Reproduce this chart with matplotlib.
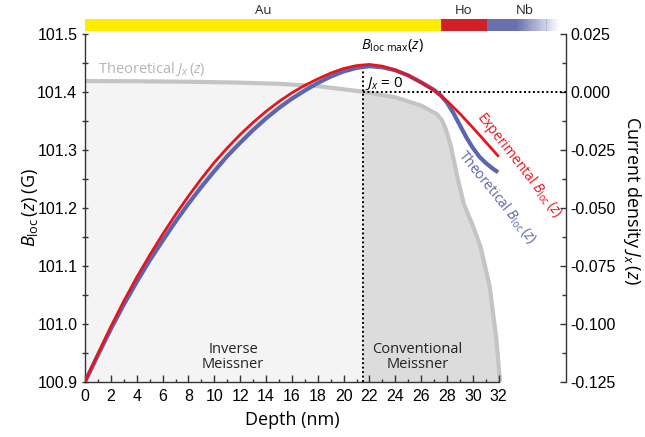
import numpy as np
import matplotlib
matplotlib.use("Agg")
import matplotlib.pyplot as plt
from matplotlib.transforms import blended_transform_factory
from matplotlib.patches import Rectangle
from matplotlib.ticker import MultipleLocator, FixedLocator

plt.rcParams['font.family'] = ['Open Sans', 'DejaVu Sans']
plt.rcParams['mathtext.fontset'] = 'custom'
plt.rcParams['mathtext.rm'] = 'Open Sans'
plt.rcParams['mathtext.it'] = 'Open Sans:italic'

# ---------------- data ----------------
depth_exp = list(range(0, 33))
b_exp = [100.900, 100.948, 100.995, 101.039, 101.080, 101.118, 101.154, 101.188,
         101.220, 101.250, 101.278, 101.303, 101.326, 101.347, 101.366, 101.383,
         101.398, 101.411, 101.422, 101.432, 101.440, 101.445, 101.447, 101.444,
         101.437, 101.428, 101.416, 101.402, 101.384, 101.362, 101.338, 101.313,
         101.288]

depth_th = list(range(0, 28)) + [27.5, 28, 28.5, 29, 29.5, 30, 30.5, 31, 31.5, 31.95]
b_th = [100.900, 100.946, 100.991, 101.033, 101.072, 101.109, 101.143, 101.176,
        101.207, 101.236, 101.263, 101.289, 101.312, 101.334, 101.354, 101.372,
        101.388, 101.402, 101.415, 101.426, 101.435, 101.441, 101.444, 101.442,
        101.437, 101.428, 101.416, 101.403,
        101.394, 101.381, 101.363, 101.342, 101.321, 101.303, 101.288, 101.277,
        101.268, 101.261]

depth_j = [0, 4, 8, 12, 15, 18, 21.5, 24, 26, 27.2, 27.6, 27.9, 28.3, 28.8, 29.3,
           30.0, 30.6, 31.3, 31.8, 32.1]
j_th = [0.0046, 0.0045, 0.0043, 0.0039, 0.0034, 0.0024, 0.0, -0.0024, -0.0060,
        -0.0096, -0.0122, -0.0160, -0.0235, -0.0368, -0.0484, -0.0578, -0.0670,
        -0.0840, -0.1060, -0.1250]

z_max = 21.5
b_max = 101.447

layer_names = ['Au', 'Ho', 'Nb']
layer_start = [0.0, 27.5, 31.1]
layer_end = [27.5, 31.1, 36.7]
layer_colors = ['#FFEC00', '#D2202A', '#6870B0']

b_ticks = [100.9, 101.0, 101.1, 101.2, 101.3, 101.4, 101.5]
j_ticks = [0.025, 0.000, -0.025, -0.050, -0.075, -0.100, -0.125]
x_ticks = list(range(0, 33, 2))

# ---------------- figure ----------------
fig = plt.figure(figsize=(6.45, 4.37), dpi=100)
ax = fig.add_axes([0.1318, 0.1265, 0.7457, 0.7964])
ax2 = ax.twinx()

XMAX = 37.2
ax.set_xlim(0, XMAX)
ax.set_ylim(100.9, 101.5)
ax2.set_ylim(-0.125, 0.025)

# fill + gray Jx curve on ax2
dj = np.array(depth_j)
jj = np.array(j_th)
left = dj <= z_max
right = dj >= z_max
ax2.fill_between(dj[left], jj[left], -0.125, color='#F4F4F4', lw=0, zorder=1)
ax2.fill_between(dj[right], jj[right], -0.125, color='#DCDCDC', lw=0, zorder=1)
ax2.plot(dj, jj, color='#C4C4C4', lw=3.0, zorder=2, solid_capstyle='butt',
         solid_joinstyle='round')

# dotted guide lines
ax2.plot([z_max, XMAX], [0, 0], color='black', lw=1.4, ls=(0, (1, 1.3)), zorder=3)
ax.plot([z_max, z_max], [100.9, b_max], color='black', lw=1.4, ls=(0, (1, 1.3)), zorder=3)

# B curves on ax
ax.plot(depth_th, b_th, color='#5B66AE', lw=3.0, zorder=5, solid_capstyle='butt',
        solid_joinstyle='round')
ax.plot(depth_exp, b_exp, color='#E8141C', lw=2.0, zorder=6, solid_capstyle='butt',
        solid_joinstyle='round')

ax.set_zorder(ax2.get_zorder() + 1)
ax.patch.set_visible(False)

# spines
for s in ['top', 'right']:
    ax.spines[s].set_visible(False)
ax.spines['bottom'].set_bounds(0, 32)
for s in ['top', 'left', 'bottom']:
    ax2.spines[s].set_visible(False)
for sp in [ax.spines['left'], ax.spines['bottom'], ax2.spines['right']]:
    sp.set_linewidth(1.0)
    sp.set_color('#333333')

tickfont = 'Liberation Sans'
ax.xaxis.set_major_locator(FixedLocator(x_ticks))
ax.xaxis.set_minor_locator(FixedLocator(list(range(1, 32, 2))))
ax.yaxis.set_major_locator(FixedLocator(b_ticks))
ax.yaxis.set_minor_locator(MultipleLocator(0.05))
ax2.yaxis.set_major_locator(FixedLocator(j_ticks))
ax2.yaxis.set_minor_locator(MultipleLocator(0.0125))

ax.set_xticklabels([str(v) for v in x_ticks], fontfamily=tickfont, fontsize=11.5)
ax.set_yticklabels([f'{v:.1f}' for v in b_ticks], fontfamily=tickfont, fontsize=11.5)
ax2.set_yticklabels([f'{v:.3f}' for v in j_ticks], fontfamily=tickfont, fontsize=11.5)

ax.tick_params(axis='x', which='major', direction='in', length=5, width=1, pad=5, color='#333333')
ax.tick_params(axis='x', which='minor', direction='in', length=2.5, width=1, color='#333333')
ax.tick_params(axis='y', which='major', direction='inout', length=5, width=1, pad=3, color='#333333')
ax.tick_params(axis='y', which='minor', direction='inout', length=4, width=1, color='#333333')
ax2.tick_params(axis='y', which='major', direction='in', length=4, width=1, pad=3, color='#333333')
ax2.tick_params(axis='y', which='minor', direction='in', length=3, width=1, color='#333333')

ax.set_xlabel('Depth (nm)', fontsize=13)
ax.xaxis.set_label_coords(16.0 / XMAX, -0.085)
ax.set_ylabel(r'$B_{\rm loc}\,(z)$ (G)', fontsize=13)
ax.yaxis.set_label_coords(-0.094, 0.5)
ax2.set_ylabel(r'Current density $J_x\,(z)$', fontsize=13, rotation=270, va='center')
ax2.yaxis.set_label_coords(1.137, 0.52)

# texts
ax2.text(1.0, 0.0098, r'Theoretical $J_x\,(z)$', color='#B5B5B5', fontsize=10.5,
         va='center', ha='left', zorder=4)
ax.text(23.8, 101.479, r'$B_{\rm loc\ max}(z)$', fontsize=10.5, ha='center', va='center', zorder=7)
ax.text(21.65, 101.414, r'$J_x$ = 0', fontsize=11, ha='left', va='center', zorder=7)
ax.text(11.45, 100.943, 'Inverse\nMeissner', fontsize=10.5, ha='center', va='center',
        linespacing=1.0, color='#222222', zorder=7)
ax.text(25.7, 100.943, 'Conventional\nMeissner', fontsize=10.5, ha='center', va='center',
        linespacing=1.0, color='#222222', zorder=7)
ax.text(33.6, 101.274, r'Experimental $B_{\rm loc}\,(z)$', color='#E8141C', fontsize=10,
        rotation=-52, ha='center', va='center', rotation_mode='anchor', zorder=7)
ax.text(31.9, 101.218, r'Theoretical $B_{\rm loc}\,(z)$', color='#5B66AE', fontsize=10,
        rotation=-51, ha='center', va='center', rotation_mode='anchor', zorder=7)

# top layer bar
trans = blended_transform_factory(ax.transData, ax.transAxes)
y0, y1 = 1.0078, 1.042
for name, s, e, c in zip(layer_names, layer_start, layer_end, layer_colors):
    if name == 'Nb':
        solid_end = s + 0.4 * (e - s)
        ax.add_patch(Rectangle((s, y0), solid_end - s, y1 - y0, transform=trans,
                               color=c, lw=0, clip_on=False))
        n = 40
        w = (e - solid_end) / n
        for i in range(n):
            a = 1.0 - (i + 0.5) / n
            ax.add_patch(Rectangle((solid_end + i * w, y0), w * 1.02, y1 - y0, transform=trans,
                                   color=c, alpha=a, lw=0, clip_on=False))
        cx = 34.0
    else:
        ax.add_patch(Rectangle((s, y0), e - s, y1 - y0, transform=trans,
                               color=c, lw=0, clip_on=False))
        cx = (s + e) / 2
    ax.text(cx, 1.068, name, transform=trans, ha='center', va='center', fontsize=9.5,
            color='#222222')

fig.savefig('out.png', dpi=100)
